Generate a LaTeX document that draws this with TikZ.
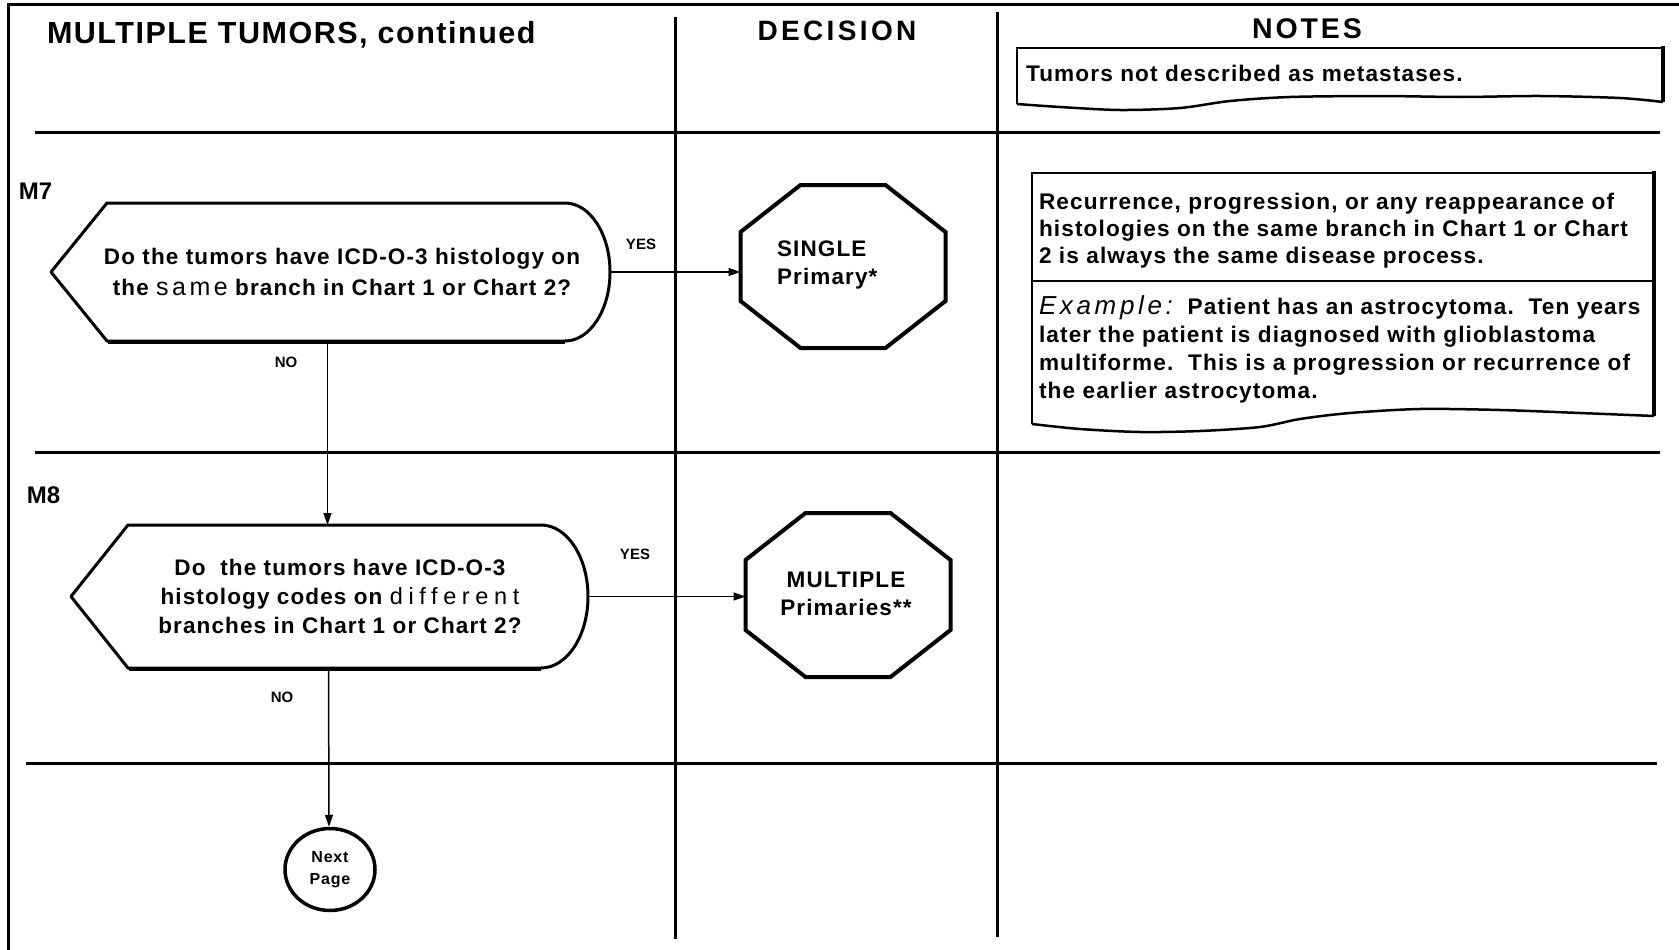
\documentclass[tikz,border=0pt]{standalone}
\usepackage{fontspec}
\setmainfont{Liberation Sans}[LetterSpace=5]
\usetikzlibrary{arrows.meta,calc,shapes.geometric}
\newcommand\octagonpath[1]{($(#1.north west)+(60,0)$) -- ($(#1.north east)+(-60,0)$) -- ($(#1.north east)+(0,47)$) -- ($(#1.south east)+(0,-47)$) -- ($(#1.south east)+(-60,0)$) -- ($(#1.south west)+(60,0)$) -- ($(#1.south west)+(0,-47)$) -- ($(#1.north west)+(0,47)$) -- cycle}
\begin{document}
\begin{tikzpicture}[x=1pt,y=-1pt,
  rule/.style={line width=3pt},
  outline/.style={line width=3pt, line join=round},
  octline/.style={line width=4pt, line join=miter},
  noteline/.style={line width=2.5pt, line join=miter},
  arr/.style={line width=1.5pt, -{Triangle[length=12pt,width=8pt]}},
  plain/.style={inner sep=0pt, outer sep=0pt},
  hdr/.style={plain, font=\bfseries\fontsize{30.5}{34}\selectfont},
  dectext/.style={plain, align=center, font=\bfseries\fontsize{22.5}{31}\selectfont},
  notetext/.style={plain, align=left, anchor=west, font=\bfseries\fontsize{22.6}{27}\selectfont},
  octtext/.style={plain, font=\bfseries\fontsize{22.5}{28.5}\selectfont},
  yn/.style={plain, font=\bfseries\addfontfeature{LetterSpace=0}\fontsize{15}{17}\selectfont},
  mlabel/.style={plain, anchor=base west, font=\bfseries\addfontfeature{LetterSpace=0}\fontsize{24}{28}\selectfont},
  box/.style={plain, draw=none, minimum width=#1},
]
\useasboundingbox (0,0) rectangle (1679,950);
\fill[white] (0,0) rectangle (1679,950);

% frame and grid
\draw[rule] (8,4.5) -- (1679,4.5);
\draw[rule] (8,3) -- (8,950);
\draw[rule] (675,17) -- (675,939);
\draw[rule] (997,12) -- (997,937);
\draw[rule] (35,132) -- (1660,132);
\draw[rule] (35,452) -- (1660,452);
\draw[rule] (26,763.5) -- (1657,763.5);

% headings
\node[hdr, anchor=base west] (title) at (47,43.5) {MULTIPLE TUMORS, continued};
\node[hdr, anchor=base, font=\bfseries\addfontfeature{LetterSpace=12}\fontsize{28}{33}\selectfont] (dech) at (837,40.5) {DECISION};
\node[hdr, anchor=base, font=\bfseries\addfontfeature{LetterSpace=10}\fontsize{28.5}{33}\selectfont] (noteh) at (1307,38.5) {NOTES};

% note 1
\draw[noteline] plot[smooth] coordinates {(1017,104) (1060,107) (1120,110) (1180,108) (1230,101) (1290,97) (1380,96) (1460,97) (1540,96) (1620,98) (1663,102)};
\draw[noteline] (1017,104) -- (1017,48) -- (1663,48);
\draw[line width=4pt] (1663,46) -- (1663,102);
\node[notetext] (n1) at (1026,73) {Tumors not described as metastases.};

% note 2
\draw[noteline] plot[smooth] coordinates {(1032,424) (1080,429) (1140,432) (1200,431) (1260,427) (1300,419) (1350,413) (1420,409) (1500,410) (1580,413) (1654,416)};
\draw[noteline] (1032,424) -- (1032,173) -- (1654,173);
\draw[line width=4.5pt] (1654,171) -- (1654,416);
\draw[line width=2pt] (1032,281) -- (1654,281);
\node[notetext] (n2) at (1039,231) {Recurrence, progression, or any reappearance of\\histologies on the same branch in Chart 1 or Chart\\2 is always the same disease process.};
\node[notetext, font=\bfseries\fontsize{22.6}{28}\selectfont] (n3) at (1039,349) {{\mdseries\itshape\addfontfeature{LetterSpace=14}\fontsize{26}{28}\selectfont Example:}\ \ Patient has an astrocytoma.\ \ Ten years\\later the patient is diagnosed with glioblastoma\\multiforme.\ \ This is a progression or recurrence of\\the earlier astrocytoma.};

% step labels
\node[mlabel] (m7) at (19,199) {M7};
\node[mlabel] (m8) at (27,503.5) {M8};

% decision M7
\node[box=559pt, minimum height=138pt] (q7) at (330.5,272) {};
\draw[outline] (q7.west) -- ($(q7.north west)+(56,0)$) -- ($(q7.north east)+(-45,0)$)
  arc[start angle=-90, end angle=90, x radius=45, y radius=69]
  -- ($(q7.south west)+(56,0)$) -- cycle;
\draw[line width=4.5pt] ($(q7.south west)+(57,1)$) -- ($(q7.south east)+(-45,1)$);
\node[dectext] (t7) at (342,271.5) {Do the tumors have ICD-O-3 histology on\\the {\mdseries\addfontfeature{LetterSpace=14}\fontsize{25}{31}\selectfont same} branch in Chart 1 or Chart 2?};

% decision M8
\node[box=517pt, minimum height=143pt] (q8) at (329.5,596.5) {};
\draw[outline] (q8.west) -- ($(q8.north west)+(57,0)$) -- ($(q8.north east)+(-47,0)$)
  arc[start angle=-90, end angle=90, x radius=47, y radius=71.5]
  -- ($(q8.south west)+(57,0)$) -- cycle;
\draw[line width=4.5pt] ($(q8.south west)+(58,1)$) -- ($(q8.south east)+(-47,1)$);
\node[dectext, font=\bfseries\fontsize{22.5}{29}\selectfont] (t8) at (340,596.5) {Do\ \ the tumors have ICD-O-3\\histology codes on {\mdseries\addfontfeature{LetterSpace=24}\fontsize{23.5}{29}\selectfont different}\\branches in Chart 1 or Chart 2?};

% decision octagons
\node[box=205pt, minimum height=163pt] (o1) at (843,266.5) {};
\draw[octline] \octagonpath{o1};
\node[octtext, align=left, anchor=west] (o1t) at (777,265) {SINGLE\\Primary*};

\node[box=205pt, minimum height=164pt] (o2) at (848,595) {};
\draw[octline] \octagonpath{o2};
\node[octtext, align=center] (o2t) at (846,594) {MULTIPLE\\Primaries**};

% next page connector
\node[ellipse, draw, line width=3.5pt, minimum width=90pt, minimum height=82pt, inner sep=0pt, align=center, font=\bfseries\fontsize{16}{22}\selectfont] (np) at (330,869.5) {Next\\Page};

% connectors
\draw[arr] (q7.east) -- (q7.east -| o1.west);
\draw[arr] (q8.east) -- (q8.east -| o2.west);
\draw[arr] ([xshift=-3pt]q7.south) -- ([xshift=-2pt]q8.north);
\draw[arr] ([xshift=-1pt]q8.south) -- ([xshift=-1pt]np.north);

% YES / NO
\node[yn] (y7) at (641,244) {YES};
\node[yn] (no7) at (286,362) {NO};
\node[yn] (y8) at (635,554) {YES};
\node[yn] (no8) at (282,697) {NO};
\end{tikzpicture}
\end{document}
